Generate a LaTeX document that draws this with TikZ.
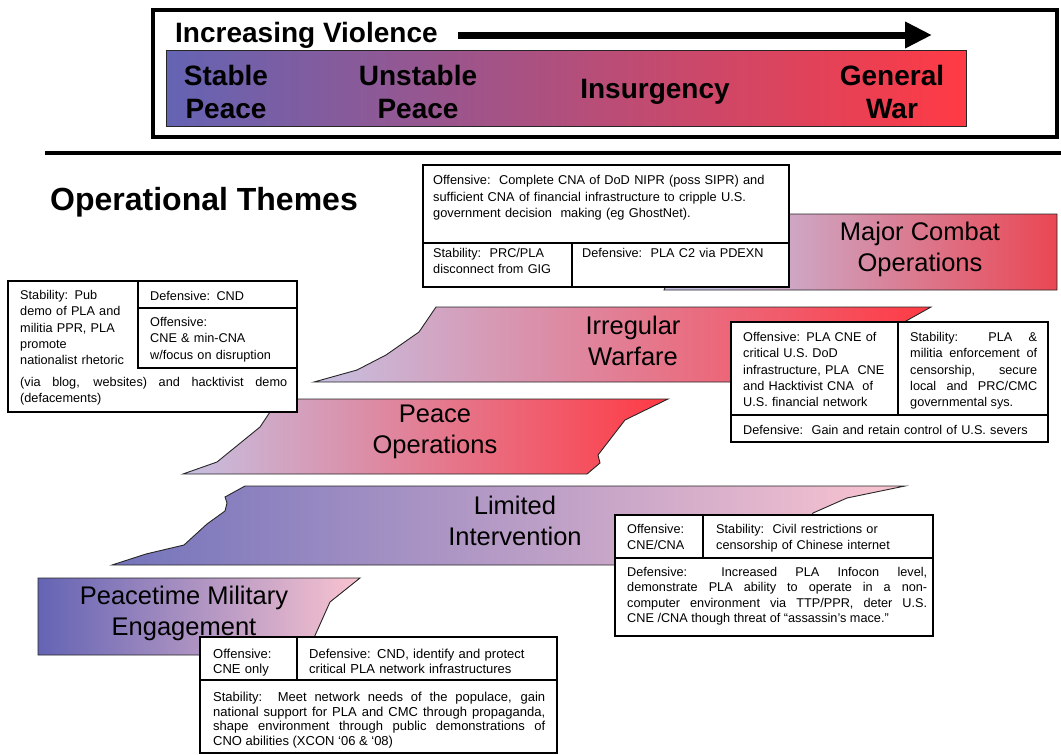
\documentclass[tikz,border=0pt]{standalone}
\usepackage{fontspec}
\setmainfont{Liberation Sans}
\usetikzlibrary{arrows.meta}

\definecolor{slate}{RGB}{100,100,180}
\definecolor{lavender}{RGB}{198,192,226}
\definecolor{mauve}{RGB}{205,100,160}
\definecolor{warred}{RGB}{255,58,68}
\definecolor{blush}{RGB}{250,196,208}
\definecolor{purered}{RGB}{255,0,0}
\pgfdeclarehorizontalshading{mcoshade}{100bp}{color(0bp)=(lavender); color(32bp)=(lavender); color(100bp)=(purered)}

\tikzset{
  band/.style={draw=black!85, line width=0.9pt},
  bandtext/.style={font=\fontsize{25.5}{31}\selectfont, align=center, inner sep=0pt},
  scaletext/.style={font=\bfseries\fontsize{28}{33}\selectfont, align=center, inner sep=0pt},
  cell/.style={draw=black, line width=1.3pt},
  boxtext/.style={font=\fontsize{12.7}{16.3}\selectfont, anchor=base west, inner sep=0pt, align=left},
}

\begin{document}
\begin{tikzpicture}[x=1pt,y=-1pt,>=Latex]
    \useasboundingbox (0,0) rectangle (1061,755);

    % Spectrum of conflict
    \draw[line width=4pt] (153,10) rectangle (1057,137);
    \draw[band, left color=slate, middle color=mauve, right color=warred] (166,50) rectangle (966,126);
    \node[anchor=west, inner sep=0pt, font=\bfseries\fontsize{28}{33}\selectfont] (violence) at (175,35) {Increasing Violence};
    \coordinate (arrowend) at (932,35);
    \draw[line width=7pt, -{Triangle[length=27pt,width=25pt]}] ([xshift=20pt]violence.east) -- (arrowend);
    \foreach \x/\lbl/\txt in {226/stable/{Stable\\Peace}, 418/unstable/{Unstable\\Peace}, 655/insurgency/Insurgency, 892/war/{General\\War}}
        \node[scaletext] (\lbl) at (\x,92) {\txt};
    \draw[line width=4pt] (45,153) -- (1061,153);

    \node[anchor=west, inner sep=0pt, font=\bfseries\fontsize{32}{36}\selectfont] (themes) at (50,202) {Operational Themes};

    % Theme bands
    \draw[band, shading=mcoshade] (700,214) -- (1057,214) -- (1057,290) -- (664,290) -- cycle;
    \node[bandtext] (mco) at (920,249) {Major Combat\\Operations};

    \draw[band, left color=lavender, right color=warred] (436,307) -- (931,307) -- (906,321) -- (880,382)
        -- (314,382) -- (357,370) -- (386,355) -- (419,332) -- cycle;
    \node[bandtext] (iw) at (633,341) {Irregular\\Warfare};

    \draw[band, left color=lavender, right color=warred] (280,399) -- (668,399) -- (625,420) -- (598,455)
        -- (600,463) -- (587,474) -- (183,474) -- (217,462) -- (260,427) -- (270,412) -- cycle;
    \node[bandtext] (po) at (435,432) {Peace\\Operations};

    \draw[band, left color=slate!90!white, right color=blush] (245,486) -- (905,486) -- (847,498) -- (813,513)
        -- (790,565) -- (112,565) -- (146,554) -- (184,545) -- (207,524) -- (225,511) -- (227,503)
        -- (225,497) -- cycle;
    \node[bandtext] (li) at (515,521) {Limited\\Intervention};

    \draw[band, left color=slate, right color=blush] (38,578) -- (360,578) -- (330,602) -- (313,640)
        -- (300,655) -- (38,655) -- cycle;
    \node[bandtext] (pme) at (184,613) {Peacetime Military\\Engagement};

    % Major combat operations box
    \draw[cell, fill=white] (423,165) rectangle (789,287);
    \draw[cell] (423,243) -- (789,243) (572,243) -- (572,287);
    \node[boxtext, font=\fontsize{12.8}{16.5}\selectfont, text width=350pt] (mcooff) at (433,184.5)
        {Offensive:\ \ Complete CNA of DoD NIPR (poss SIPR) and\\sufficient CNA of financial infrastructure to cripple U.S.\\government decision\ \ making (eg GhostNet).};
    \node[boxtext, text width=135pt] (mcostab) at (433,257.5) {Stability:\ \ PRC/PLA\\disconnect from GIG};
    \node[boxtext, text width=200pt] (mcodef) at (582,257.5) {Defensive:\ \ PLA C2 via PDEXN};

    % Peace operations box
    \draw[cell, fill=white] (8,281) rectangle (297,412);
    \draw[cell] (138,281) -- (138,368) -- (297,368) (138,308) -- (297,308);
    \node[boxtext, text width=118pt] (postab) at (20,299.5) {Stability: Pub\\demo of PLA and\\militia PPR, PLA\\promote\\nationalist rhetoric};
    \node[boxtext, text width=267pt, align=justify] (postabb) at (20,386.5)
        {(via blog, websites) and hacktivist demo\linebreak (defacements)};
    \node[boxtext, text width=140pt] (podef) at (150,300.5) {Defensive: CND};
    \node[boxtext, text width=140pt] (pooff) at (150,326.5) {Offensive:\\CNE \& min-CNA\\w/focus on disruption};

    % Irregular warfare box
    \draw[cell, fill=white] (731,322) rectangle (1048,442);
    \draw[cell] (898,322) -- (898,415) (731,415) -- (1048,415);
    \node[boxtext, text width=150pt] (iwoff) at (743,341.5)
        {Offensive: PLA CNE of\\critical U.S. DoD\\infrastructure, PLA\ \ CNE\\and Hacktivist CNA\ \ of\\U.S. financial network};
    \node[boxtext, text width=127pt, align=justify] (iwstab) at (910,341.5)
        {Stability: PLA \&\linebreak militia enforcement of\linebreak censorship, secure\linebreak local and PRC/CMC\linebreak governmental sys.};
    \node[boxtext, text width=300pt] (iwdef) at (743,434.5) {Defensive:\ \ Gain and retain control of U.S. severs};

    % Limited intervention box
    \draw[cell, fill=white] (615,515) rectangle (933,636);
    \draw[cell] (703,515) -- (703,558) (615,558) -- (933,558);
    \node[boxtext, font=\fontsize{12.7}{16}\selectfont, text width=75pt] (lioff) at (627,533.5) {Offensive:\\CNE/CNA};
    \node[boxtext, font=\fontsize{12.7}{16}\selectfont, text width=210pt] (listab) at (716,533.5) {Stability:\ \ Civil restrictions or\\censorship of Chinese internet};
    \node[boxtext, font=\fontsize{12.7}{15.4}\selectfont, text width=300pt, align=justify] (lidef) at (627,576.5)
        {Defensive: Increased PLA Infocon level,\linebreak demonstrate PLA ability to operate in a non-\linebreak computer environment via TTP/PPR, deter U.S.\linebreak CNE /CNA though threat of ``assassin's mace.''};

    % Peacetime military engagement box
    \draw[cell, fill=white] (200,637) rectangle (557,753);
    \draw[cell] (297,637) -- (297,680) (200,680) -- (557,680);
    \node[boxtext, font=\fontsize{13}{14.5}\selectfont, text width=80pt] (pmoff) at (213,658.5) {Offensive:\\CNE only};
    \node[boxtext, font=\fontsize{13}{14.5}\selectfont, text width=240pt] (pmdef) at (309,658.5) {Defensive: CND, identify and protect\\critical PLA network infrastructures};
    \node[boxtext, font=\fontsize{13}{14.5}\selectfont, text width=332pt, align=justify] (pmstab) at (213,701.5)
        {Stability:\ \ Meet network needs of the populace, gain\linebreak national support for PLA and CMC through propaganda,\linebreak shape environment through public demonstrations of\linebreak CNO abilities (XCON `06 \& `08)};
\end{tikzpicture}
\end{document}
